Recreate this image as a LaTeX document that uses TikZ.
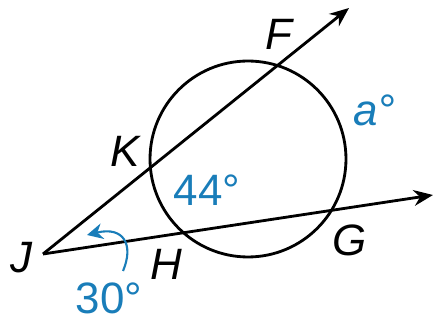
\documentclass[tikz,border=0pt]{standalone}
\usepackage{fontspec}
\setmainfont{Liberation Sans}
\usetikzlibrary{arrows.meta}
\definecolor{angblue}{RGB}{25,125,185}

\begin{document}
\begin{tikzpicture}[x=0.02cm, y=-0.02cm,
  font=\fontsize{25}{28}\selectfont,
  ln/.style={line width=1.6pt},
  ray/.style={ln, -{Stealth[length=11pt, width=9pt]}},
  pt/.style={inner sep=0pt, font=\fontsize{25}{28}\selectfont\itshape},
  ang/.style={inner sep=0pt, text=angblue}]
\useasboundingbox (0,0) rectangle (433,320);
% circle and the two secants from J
\coordinate (O) at (248,159);
\coordinate (J) at (43,254);
\coordinate (tipF) at (349,8);
\coordinate (tipG) at (433,195);
\draw[ln] (O) circle[radius=1.96cm];
\draw[ray] (J) -- (tipF);
\draw[ray] (J) -- (tipG);
% point labels
\node[pt] (lJ) at (21,258) {J};
\node[pt] (lK) at (125,151) {K};
\node[pt] (lF) at (279,34) {F};
\node[pt] (lH) at (166,264) {H};
\node[pt] (lG) at (350,240) {G};
% angle measures
\node[ang] (m44) at (207,190) {44°};
\node[ang, font=\fontsize{25}{28}\selectfont\itshape] (ma) at (374,110) {a°};
\node[ang] (m30) at (109,298) {30°};
\coordinate (arcS) at (123,271);
\draw[angblue, line width=1.2pt, -{Stealth[length=9pt, width=9pt]}]
  (arcS) .. controls (134,245) and (124,226) .. (87,235);
\end{tikzpicture}
\end{document}
